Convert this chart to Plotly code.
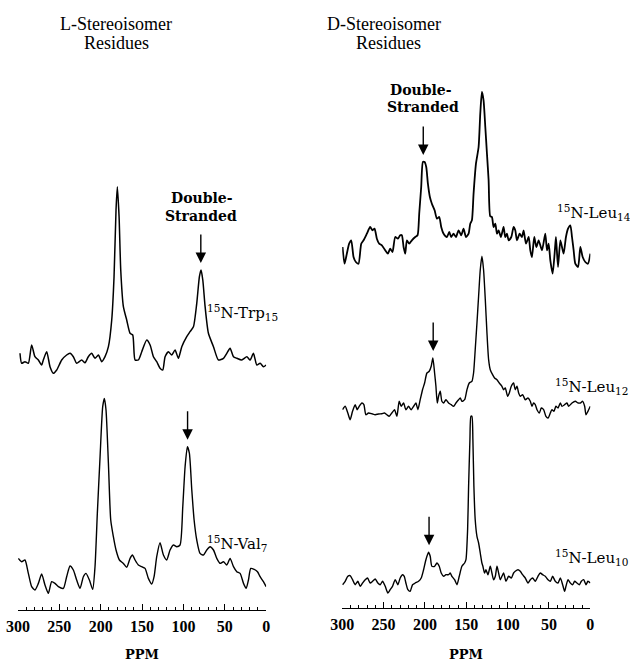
import plotly.graph_objects as go

# ---------------- data (ppm, intensity in arbitrary units) ----------------
# Left panel: L-stereoisomer residues
trp15_ppm = [297.6,295.6,291.6,287.5,283.5,279.5,275.4,271.4,269.4,265.3,
             261.3,257.3,253.2,247.2,241.2,237.1,233.1,229.1,223.0,219.0,
             215.0,210.9,206.9,202.8,198.8,194.8,190.7,186.7,183.9,181.5,
             179.9,177.8,175.8,172.6,168.6,164.5,161.3,158.5,154.5,150.4,
             144.4,140.3,136.3,132.3,128.3,125.0,122.2,118.2,114.1,110.1,
             106.1,102.0,96.0,92.0,87.9,83.9,80.7,78.7,76.6,73.8,
             69.8,63.7,57.7,51.6,47.6,43.6,39.5,35.5,29.5,23.4,
             19.4,15.4,11.3,7.3,3.3,0.0]
trp15_int = [6.7,-3.3,-1.7,-3.3,15,3.3,0,-5,0,8.3,
             -6.7,-13.3,-10,0,5,6.7,3.3,-3.3,0,-2.7,
             3.3,6.7,1.7,5,-1.7,3.3,13.3,40,83.3,150,
             173.3,143.3,90,53.3,40,26.7,25,0,0,8.3,
             20,15,3.3,-1.7,-8.3,-10,3.3,8.3,5,10,
             1.7,13.3,23.3,28.3,33.3,56.7,83.3,90,80,53.3,
             26.7,13.3,0,1.7,6.7,11.7,3.3,1.7,0,3.3,
             0,6.7,-5,-3.3,-6.7,-5]

val7_ppm = [299.6,295.6,291.6,287.5,283.5,279.5,275.4,271.4,267.4,263.3,
            259.3,255.3,251.2,245.2,241.2,237.1,233.1,229.1,225.0,221.0,
            217.8,213.7,209.7,206.9,204.1,200.8,197.6,195.6,193.6,190.7,
            187.9,184.7,181.5,177.4,172.6,168.6,164.5,161.7,158.5,154.5,
            150.4,146.4,142.4,138.3,135.5,132.3,128.3,124.2,120.2,116.2,
            112.1,108.1,104.1,100.8,98.0,95.2,92.8,89.9,87.1,83.9,
            79.9,75.8,71.8,67.8,63.7,59.7,55.7,51.6,47.6,43.6,
            39.5,35.5,31.5,27.4,24.2,21.4,18.6,14.5,10.5,7.3,
            3.3,0.0]
val7_int = [28.3,25,26.7,13.3,0,-3.3,3.3,12.7,1.7,-6.7,
            5,3.3,0,-1.7,10,20.7,16.7,6.7,-1.7,10,
            13.3,6.7,-2.7,20,73.3,130,180,188.3,176.7,123.3,
            66.7,50,36.7,26.7,23.3,19.3,28.3,31.7,26.7,21.7,
            20,18.3,8.3,2.7,10,30,44,31.7,26.7,36.7,
            41.7,40,41.7,80,120,140,133.3,96.7,66.7,46.7,
            33.3,31.7,36.7,40,36.7,28.3,23.3,25,21.7,28.3,
            20,15,13.3,3.3,-1.7,6.7,18.3,17.3,15,10,
            5,0]

# Right panel: D-stereoisomer residues
leu14_ppm = [299.6,297.2,294.4,291.6,289.1,286.3,283.5,280.3,277.0,274.2,
             270.2,266.2,263.3,260.9,258.1,255.3,252.0,248.0,244.8,242.0,
             239.2,235.9,232.7,229.9,227.9,225.8,223.8,221.8,219.0,215.8,
             211.7,208.9,206.9,204.5,202.4,200.4,198.4,196.4,194.0,191.6,
             188.3,185.5,182.7,180.3,177.4,173.4,170.6,168.2,165.4,162.5,
             159.3,156.1,153.3,150.4,147.2,145.2,143.2,141.2,138.3,135.1,
             133.1,131.1,129.1,127.0,125.0,123.0,121.0,119.0,117.0,114.9,
             112.9,110.9,108.1,104.9,102.9,100.8,98.8,95.6,92.8,90.8,
             88.7,85.5,82.7,80.7,77.8,74.6,72.6,70.6,67.8,65.3,
             62.5,58.5,54.5,52.4,50.4,48.4,45.6,43.2,41.6,39.1,
             36.3,34.3,32.3,29.5,27.0,24.2,22.2,20.2,18.2,14.9,
             12.1,9.3,6.1,2.9,0.0]
leu14_int = [0,-16.7,-6.7,3.3,6.7,-10,-15,-16.7,3.3,6.7,
             13.3,20,16.7,18.3,8.3,3.3,1.7,-3.3,-6.7,-1.7,
             -5,10,8.3,11.7,11.7,0,-6.7,6.7,3.3,6.7,
             10,11.7,33.3,60,85,85,80,63.3,50,43.3,
             36.7,28.3,30,20,13.3,10,15,10,13.3,10,
             16.7,11.7,18.3,10,13.3,23.3,26.7,53.3,83.3,100,
             133.3,155,146.7,120,93.3,66.7,30.7,30,20,23.3,
             13.3,16.7,10,20,10,13.3,6.7,10,20,16.7,
             6.7,13.3,10,16.7,3.3,10,-3.3,-10,10,0,
             6.7,-3.3,13.3,-3.3,3.3,-13.3,-26.7,-6.7,10,-20,
             6.7,0,-6.7,10,18.3,21.7,10,-3.3,-16.7,-20,
             0,-10,-15,-16.7,-6.7]

leu12_ppm = [299.6,296.4,293.2,290.4,287.5,284.3,281.9,279.5,276.2,273.8,
             271.4,268.2,264.1,260.1,256.1,252.0,248.8,246.0,243.2,240.0,
             236.7,233.9,231.1,228.7,225.8,223.0,219.8,216.6,213.7,210.9,
             208.5,205.7,202.9,200.4,197.6,194.8,192.4,190.4,188.3,186.7,
             185.1,183.5,181.5,179.5,177.4,174.6,171.4,168.2,165.4,162.5,
             159.3,157.3,155.3,152.0,149.2,146.4,143.2,141.2,139.2,137.1,
             135.1,133.1,131.1,129.1,127.0,125.0,123.0,121.0,118.2,115.8,
             112.9,110.1,106.9,104.9,102.9,100.0,98.0,95.6,92.8,90.8,
             88.7,86.7,84.7,81.9,78.7,75.4,72.6,70.6,68.6,66.6,
             64.5,61.7,59.3,56.5,53.7,51.2,48.4,46.4,44.0,41.6,
             39.1,36.3,34.3,31.1,28.3,26.2,22.2,18.2,14.9,12.1,
             9.3,6.9,5.3,2.9,0.0]
leu12_int = [3.3,6.7,0,-6.7,1.7,8.3,3.3,6.7,10,8.3,
             -1.7,0,-0.7,-1.7,-1,-0.7,0,-1.7,-3.3,0,
             3.3,-3.3,11.7,6.7,10,3.3,6.7,3.3,6.7,10,
             3.3,13.3,23.3,30,40,41.7,46.7,55,40,26.7,
             10,16.7,21.7,11.7,10,13.3,10,8.3,6.7,10,
             13.3,15,11.7,13.3,23.3,30,31.7,40,63.3,90,
             116.7,143.3,156.7,143.3,113.3,80,53.3,43.3,38.3,35,
             33.3,30,26.7,23.3,25,16.7,20,26.7,30,23.3,
             26.7,20,16.7,18.3,13.3,15,11.7,6.7,10,8.3,
             3.3,0,5,3.3,-3.3,-5,0,3.3,1.7,6.7,
             5,10,6.7,8.3,10,6.7,10,11.7,10,10,
             11.7,6.7,-1.7,1.7,6.7]

leu10_ppm = [299.6,296.4,293.2,290.4,287.5,284.3,281.1,278.3,275.4,272.2,
             269.4,266.2,263.3,260.1,256.9,254.1,251.2,248.0,244.8,242.0,
             239.2,235.9,232.7,229.9,227.0,225.0,223.0,220.6,217.8,215.0,
             211.7,207.7,204.5,201.6,198.8,195.6,193.6,191.6,188.3,185.5,
             182.7,180.3,177.4,174.6,171.4,169.4,167.4,164.1,161.3,158.5,
             155.3,152.0,150.4,148.4,147.2,145.6,144.4,143.2,142.0,140.8,
             139.2,137.1,135.1,133.1,131.1,129.9,127.9,126.2,123.8,121.0,
             119.0,117.0,114.9,112.9,110.9,108.9,106.9,104.9,102.0,98.8,
             95.6,92.8,90.8,87.5,84.7,81.9,78.7,75.4,72.6,69.8,
             66.6,63.3,60.5,57.7,54.5,51.2,48.4,45.6,42.4,39.1,
             36.3,33.5,31.1,29.5,27.0,24.2,21.4,19.0,16.2,13.3,
             10.9,8.1,5.3,2.9,0.0]
leu10_int = [-1.7,1.7,6.7,7.3,3.3,-1.7,1.7,-3.3,0,3.3,
             5,0,1.7,4,0,-1.7,1.7,-3.3,-10,-6.7,
             -3.3,3.3,-1.7,5,8.3,6.7,0,-6.7,-8.3,-1.7,
             0,1.7,5,13.3,23.3,30.7,26.7,16.7,16.7,20,
             16.7,10,6.7,8.3,8.3,10,6.7,3.3,-1.7,6.7,
             16.7,20,23.3,53.3,96.7,143.3,166.7,166.7,143.3,96.7,
             63.3,46.7,40,30,20,16.7,10,13.3,8.3,16.7,
             10,3.3,6.7,16.7,10,3.3,6.7,10,1.7,6.7,
             5,10,11.7,13.3,11.7,8.3,5,0,3.3,5,
             1.7,6.7,10,8.3,6.7,3.3,1.7,6.7,1.7,0,
             5,-1.7,-8.3,-3.3,3.3,0,-1.7,1.7,0,-1.7,
             1.7,3.3,-1.7,1.7,0]

# double-stranded peak positions (ppm) marked with arrows
ds_trp15, ds_val7, ds_leu14, ds_leu12, ds_leu10 = 79, 95, 202, 190, 195

tick_vals = [300, 250, 200, 150, 100, 50, 0]
tick_text = ["300", "250", "200", "150", "100", "50", "0"]

# ---------------- layout constants ----------------
W, H = 630, 662
SERIF = "Liberation Serif"
WIDE = "DejaVu Serif"
# horizontal correction for the page as it is photographed
SX, OX = 0.974, 12.0


def fx(px):
    """target picture x (pixels) -> paper fraction"""
    return (px - OX) / SX / W


def fy(py):
    return 1 - py / H


traces = [
    # name, ppm, intensity, vertical offset, axes, line width, label, label pos, ds ppm
    ("Trp15", trp15_ppm, trp15_int, 250, "x", "y", 1.5,
     "<sup>15</sup>N-Trp<sub>15</sub>", (205, 312), ds_trp15),
    ("Val7", val7_ppm, val7_int, 23.3, "x", "y", 1.4,
     "<sup>15</sup>N-Val<sub>7</sub>", (205, 543), ds_val7),
    ("Leu14", leu14_ppm, leu14_int, 361, "x2", "y2", 1.8,
     "<sup>15</sup>N-Leu<sub>14</sub>", (555, 212), ds_leu14),
    ("Leu12", leu12_ppm, leu12_int, 195, "x2", "y2", 1.4,
     "<sup>15</sup>N-Leu<sub>12</sub>", (553, 386), ds_leu12),
    ("Leu10", leu10_ppm, leu10_int, 25, "x2", "y2", 1.4,
     "<sup>15</sup>N-Leu<sub>10</sub>", (553, 557), ds_leu10),
]

fig = go.Figure()
annotations = []
for name, ppm, inten, off, xa, ya, lw, label, lpos, ds in traces:
    fig.add_trace(go.Scatter(
        x=ppm, y=[v + off for v in inten], mode="lines", name=name,
        xaxis=xa, yaxis=ya, line=dict(color="black", width=lw, shape="spline",
                                      smoothing=0.6),
        showlegend=False, hoverinfo="skip"))
    peak = max(v for p, v in zip(ppm, inten) if abs(p - ds) < 8) + off
    annotations.append(dict(
        x=ds, y=peak + 7, xref=xa, yref=ya, text="", showarrow=True,
        arrowhead=2, arrowsize=1.5, arrowwidth=1.4, arrowcolor="black",
        ax=0, ay=-30))
    annotations.append(dict(
        x=fx(lpos[0]), y=fy(lpos[1]), xref="paper", yref="paper", text=label,
        showarrow=False, xanchor="left", yanchor="middle",
        font=dict(family=WIDE, size=15, color="black")))

texts = [
    ("L-Stereoisomer", 116, 24, SERIF, 18, "normal"),
    ("Residues", 116, 43, SERIF, 18, "normal"),
    ("D-Stereoisomer", 384, 24, SERIF, 18, "normal"),
    ("Residues", 388, 43, SERIF, 18, "normal"),
    ("Double-", 202, 198, WIDE, 14, "bold"),
    ("Stranded", 201, 216, WIDE, 14, "bold"),
    ("Double-", 421, 90, WIDE, 14, "bold"),
    ("Stranded", 423, 107, WIDE, 14, "bold"),
    ("PPM", 142, 654, WIDE, 13, "bold"),
    ("PPM", 466, 654, WIDE, 13, "bold"),
]
for t, px, py, fam, sz, wt in texts:
    annotations.append(dict(
        x=fx(px), y=fy(py), xref="paper", yref="paper", text=t,
        showarrow=False, xanchor="center", yanchor="middle",
        font=dict(family=fam, size=sz, color="black", weight=wt)))

xax = dict(range=[300, 0], showline=True, linecolor="black", linewidth=1.2,
           ticks="inside", ticklen=6, tickwidth=1.2, tickcolor="black",
           tickvals=tick_vals, ticktext=tick_text, showgrid=False,
           zeroline=False, ticklabelstandoff=2,
           tickfont=dict(family=SERIF, size=16, color="black", weight="bold"),
           minor=dict(dtick=10, tick0=0, ticks="inside", ticklen=3,
                      tickwidth=1, tickcolor="black", showgrid=False))
yax = dict(visible=False, showgrid=False, zeroline=False)

fig.update_layout(
    width=W, height=H, margin=dict(l=0, r=0, t=0, b=0),
    paper_bgcolor="white", plot_bgcolor="white",
    xaxis=dict(xax, domain=[fx(18), fx(266)], anchor="y"),
    xaxis2=dict(xax, domain=[fx(342), fx(590)], anchor="y2"),
    yaxis=dict(yax, domain=[52 / H, 1], range=[0, 610]),
    yaxis2=dict(yax, domain=[54 / H, 1], range=[0, 608]),
    annotations=annotations,
)

fig.write_html(
    "out.html",
    config={"displayModeBar": False},
    post_script="document.body.style.margin='0';"
                "document.body.style.overflow='hidden';")
